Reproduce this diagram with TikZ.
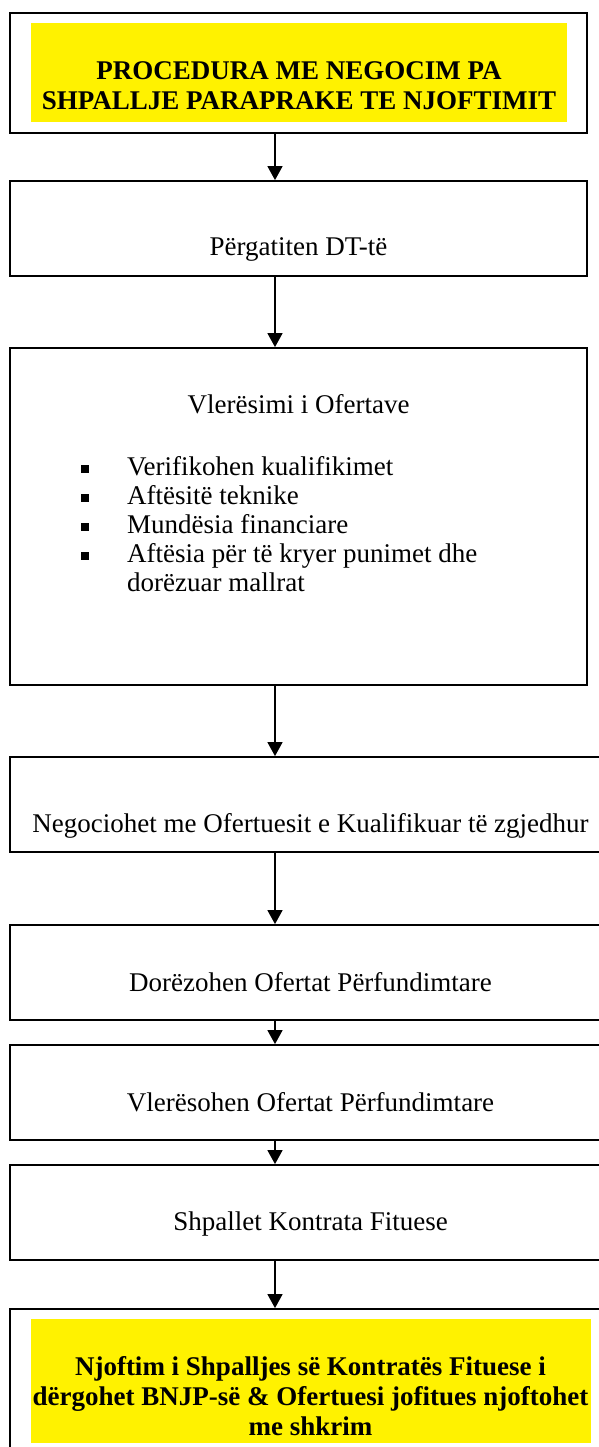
\documentclass[tikz,border=0pt]{standalone}
\usepackage{fontspec}
\setmainfont{Liberation Serif}[BoldFont={Liberation Serif Bold}]
\usetikzlibrary{arrows.meta}

\begin{document}
\begin{tikzpicture}[x=1pt, y=-1pt,
    box/.style={draw, line width=1.8pt, inner sep=0pt, minimum height=95pt},
    narrowbox/.style={box, minimum width=577pt},
    widebox/.style={box, minimum width=601pt},
    hilite/.style={fill=yellow, inner sep=0pt},
    txt/.style={inner sep=0pt, anchor=base, font=\fontsize{27}{30}\selectfont},
    boldtxt/.style={txt, font=\fontsize{27}{30}\selectfont\bfseries},
    flow/.style={line width=1.5pt, -{Triangle[width=15pt,length=14pt]}}]
    \clip (0,0) rectangle (599,1447);
    \coordinate (axis) at (275,0);

    % head box
    \node[narrowbox, minimum height=120pt] (b1) at (298.5,73) {};
    \node[hilite, minimum width=536pt, minimum height=99pt] (y1) at (299,72.5) {};
    \node[boldtxt] (t1) at (299,80)
    {\begin{tabular}[t]{@{}c@{}}PROCEDURA ME NEGOCIM PA\\SHPALLJE PARAPRAKE TE NJOFTIMIT\end{tabular}};

    \node[narrowbox] (b2) at (298.5,228.5) {};
    \node[txt] (t2) at (298.5,255) {Përgatiten DT-të};

    % evaluation box with list
    \node[narrowbox, minimum height=337pt] (b3) at (298.5,516.5) {};
    \node[txt] (t3) at (298.5,413) {Vlerësimi i Ofertave};
    \node[txt, anchor=base west, font=\fontsize{27}{29}\selectfont] (l3) at (81,475)
    {\begin{tabular}[t]{@{}p{46pt}@{}l@{}}
      \rule[2pt]{8pt}{8pt} & Verifikohen kualifikimet\\
      \rule[2pt]{8pt}{8pt} & Aftësitë teknike\\
      \rule[2pt]{8pt}{8pt} & Mundësia financiare\\
      \rule[2pt]{8pt}{8pt} & Aftësia për të kryer punimet dhe\\
                           & dorëzuar mallrat
    \end{tabular}};

    \node[widebox] (b4) at (310.5,804.5) {};
    \node[txt] (t4) at (310.5,832) {Negociohet me Ofertuesit e Kualifikuar të zgjedhur};

    \node[widebox] (b5) at (310.5,972.5) {};
    \node[txt] (t5) at (310.5,991) {Dorëzohen Ofertat Përfundimtare};

    \node[widebox] (b6) at (310.5,1092.5) {};
    \node[txt] (t6) at (310.5,1111) {Vlerësohen Ofertat Përfundimtare};

    \node[widebox] (b7) at (310.5,1212.5) {};
    \node[txt] (t7) at (310.5,1230) {Shpallet Kontrata Fituese};

    % closing box
    \node[widebox, minimum height=151pt] (b8) at (310.5,1384.5) {};
    \node[hilite, minimum width=560pt, minimum height=124pt] (y8) at (311,1381) {};
    \node[boldtxt] (t8) at (310.5,1375)
    {\begin{tabular}[t]{@{}c@{}}Njoftim i Shpalljes së Kontratës Fituese i\\dërgohet BNJP-së \& Ofertuesi jofitues njoftohet\\me shkrim\end{tabular}};

    \foreach \a/\b in {b1/b2, b2/b3, b3/b4, b4/b5, b5/b6, b6/b7, b7/b8}
      \draw[flow] (\a.south -| axis) -- (\b.north -| axis);
\end{tikzpicture}
\end{document}
